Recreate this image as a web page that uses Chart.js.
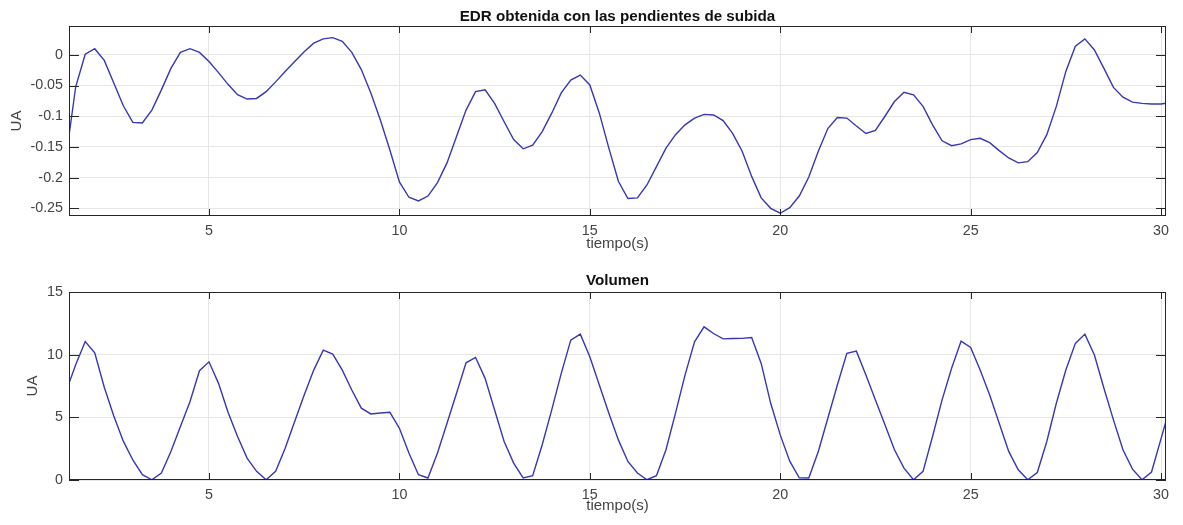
<!DOCTYPE html>
<html><head><meta charset="utf-8">
<script src="https://cdn.jsdelivr.net/npm/chart.js@4/dist/chart.umd.min.js"></script>
<style>
html,body{margin:0;padding:0;background:#fff}
body{width:1183px;height:525px;overflow:hidden;position:relative}
.box{position:absolute;left:0;width:1183px}
#b1{top:0;height:262px}
#b2{top:262px;height:263px}
</style></head><body>
<div class="box" id="b1"><canvas id="c1"></canvas></div>
<div class="box" id="b2"><canvas id="c2"></canvas></div>
<script>
const time = [
  1.25,1.5,1.75,
  2,2.25,2.5,2.75, 3,3.25,3.5,3.75, 4,4.25,4.5,4.75, 5,5.25,5.5,5.75,
  6,6.25,6.5,6.75, 7,7.25,7.5,7.75, 8,8.25,8.5,8.75, 9,9.25,9.5,9.75,
  10,10.25,10.5,10.75, 11,11.25,11.5,11.75, 12,12.25,12.5,12.75, 13,13.25,13.5,13.75,
  14,14.25,14.5,14.75, 15,15.25,15.5,15.75, 16,16.25,16.5,16.75, 17,17.25,17.5,17.75,
  18,18.25,18.5,18.75, 19,19.25,19.5,19.75, 20,20.25,20.5,20.75, 21,21.25,21.5,21.75,
  22,22.25,22.5,22.75, 23,23.25,23.5,23.75, 24,24.25,24.5,24.75, 25,25.25,25.5,25.75,
  26,26.25,26.5,26.75, 27,27.25,27.5,27.75, 28,28.25,28.5,28.75, 29,29.25,29.5,29.75,
  30,30.25
];
const edr = [
  -0.165,-0.052,0.001,
  0.010,-0.009,-0.046,-0.083, -0.110,-0.111,-0.090,-0.057, -0.022,0.004,0.010,0.004, -0.011,-0.029,-0.048,-0.065,
  -0.072,-0.071,-0.060,-0.044, -0.027,-0.011,0.005,0.019, 0.026,0.028,0.022,0.004, -0.024,-0.062,-0.106,-0.155,
  -0.207,-0.232,-0.238,-0.230, -0.208,-0.176,-0.133,-0.090, -0.060,-0.057,-0.079,-0.109, -0.138,-0.153,-0.147,-0.125,
  -0.095,-0.062,-0.041,-0.033, -0.049,-0.095,-0.152,-0.206, -0.234,-0.233,-0.212,-0.182, -0.152,-0.130,-0.114,-0.103,
  -0.097,-0.098,-0.107,-0.128, -0.157,-0.198,-0.233,-0.250, -0.258,-0.249,-0.230,-0.199, -0.157,-0.120,-0.102,-0.103,
  -0.116,-0.128,-0.123,-0.100, -0.076,-0.061,-0.065,-0.084, -0.114,-0.140,-0.148,-0.145, -0.138,-0.136,-0.143,-0.156,
  -0.168,-0.176,-0.174,-0.159, -0.130,-0.084,-0.027,0.014, 0.026,0.008,-0.022,-0.053, -0.069,-0.077,-0.079,-0.080,
  -0.080,-0.078
];
const volumen = [
  7.1,9.2,11.05,
  10.15,7.4,5.1,3.1, 1.6,0.42,0.02,0.56, 2.28,4.27,6.25,8.72, 9.43,7.71,5.4,3.47,
  1.75,0.69,0.02,0.69, 2.54,4.66,6.78,8.77, 10.36,10.05,8.77,7.18, 5.73,5.27,5.35,5.4,
  4.13,2.15,0.42,0.16, 2.15,4.53,6.92,9.35, 9.78,8.11,5.59,3.07, 1.35,0.16,0.34,2.81,
  5.59,8.51,11.16,11.64, 9.83,7.58,5.33,3.2, 1.48,0.56,0.02,0.34, 2.41,5.33,8.37,11.02,
  12.22,11.69,11.26,11.29, 11.3,11.37,9.3,6.12, 3.6,1.5,0.18,0.16, 2.28,4.93,7.58,10.1,
  10.28,8.37,6.39,4.4, 2.41,0.95,0.02,0.69, 3.47,6.39,8.91,11.08, 10.58,8.77,6.78,4.53,
  2.28,0.82,0.02,0.6, 3.07,6.12,8.77,10.9, 11.64,9.97,7.32,4.8, 2.41,0.87,0.02,0.64,
  3.3,6.0
];
const xTicks = [5,10,15,20,25,30];
const xTickLabels = ['5','10','15','20','25','30'];
const edrTicks = [-0.25,-0.2,-0.15,-0.1,-0.05,0];
const edrTickLabels = ['-0.25','-0.2','-0.15','-0.1','-0.05','0'];
const volTicks = [0,5,10,15];
const volTickLabels = ['0','5','10','15'];
const title1 = 'EDR obtenida con las pendientes de subida';
const title2 = 'Volumen';
const xLabel = 'tiempo(s)';
const yLabel = 'UA';

const FONT = '"Liberation Sans", Arial, sans-serif';
const TXT = '#444444';

const framePlugin = {
  id: 'frame',
  afterDatasetsDraw(chart, args, opts) {
    const {ctx, chartArea: a, scales: {x, y}} = chart;
    ctx.save();
    ctx.strokeStyle = '#262626';
    ctx.lineWidth = 1;
    ctx.beginPath();
    x.ticks.forEach(t => {
      const px = Math.round(x.getPixelForValue(t.value)) + 0.5;
      ctx.moveTo(px, a.bottom); ctx.lineTo(px, a.bottom - 7);
      ctx.moveTo(px, a.top); ctx.lineTo(px, a.top + 7);
    });
    y.ticks.forEach(t => {
      const py = Math.round(y.getPixelForValue(t.value)) + 0.5;
      ctx.moveTo(a.left, py); ctx.lineTo(a.left + 10, py);
      ctx.moveTo(a.right, py); ctx.lineTo(a.right - 10, py);
    });
    ctx.stroke();
    ctx.strokeRect(a.left + 0.5, a.top + 0.5, a.right - a.left - 1, a.bottom - a.top - 1);
    ctx.fillStyle = '#111';
    ctx.font = 'bold 15.2px ' + FONT;
    ctx.textAlign = 'center';
    ctx.textBaseline = 'alphabetic';
    ctx.fillText(opts.text, (a.left + a.right) / 2, a.top - opts.gap);
    ctx.restore();
  }
};

function makeChart(id, values, yTicks, yLabels, ymin, ymax, pad, yTitlePad, xTitlePad, gap, title) {
  return new Chart(document.getElementById(id), {
    type: 'line',
    data: {
      labels: time,
      datasets: [{
        data: time.map((t, i) => ({x: t, y: values[i]})),
        borderColor: 'rgb(55,55,180)',
        borderWidth: 1.4,
        pointRadius: 0,
        tension: 0,
        fill: false
      }]
    },
    options: {
      responsive: true,
      maintainAspectRatio: false,
      animation: false,
      devicePixelRatio: 1,
      layout: {padding: pad},
      plugins: {
        legend: {display: false},
        tooltip: {enabled: false},
        frame: {text: title, gap: gap}
      },
      scales: {
        x: {
          type: 'linear',
          min: 1.324,
          max: 30.13,
          afterBuildTicks: s => { s.ticks = xTicks.map(v => ({value: v})); },
          afterFit: s => { s.height = 40; },
          grid: {color: '#e6e6e6', lineWidth: 1, drawTicks: false},
          border: {display: false},
          ticks: {
            padding: 6,
            color: TXT,
            font: {family: FONT, size: 14.3},
            maxRotation: 0,
            autoSkip: false,
            callback: v => xTickLabels[xTicks.indexOf(v)]
          },
          title: {display: true, text: xLabel, color: TXT,
                  font: {family: FONT, size: 15}, padding: {top: 0, bottom: xTitlePad}}
        },
        y: {
          type: 'linear',
          min: ymin,
          max: ymax,
          afterBuildTicks: s => { s.ticks = yTicks.map(v => ({value: v})); },
          afterFit: s => { s.width = 69; },
          grid: {color: '#e6e6e6', lineWidth: 1, drawTicks: false},
          border: {display: false},
          ticks: {
            padding: 6,
            color: TXT,
            font: {family: FONT, size: 14.3},
            autoSkip: false,
            callback: v => yLabels[yTicks.indexOf(v)]
          },
          title: {display: true, text: yLabel, color: TXT,
                  font: {family: FONT, size: 15}, padding: {top: yTitlePad, bottom: 0}}
        }
      }
    },
    plugins: [framePlugin]
  });
}

makeChart('c1', edr, edrTicks, edrTickLabels, -0.2625, 0.047,
  {top: 26, right: 17, bottom: 6, left: 0}, 8, 3.5, 5.5, title1);
makeChart('c2', volumen, volTicks, volTickLabels, 0, 15,
  {top: 30, right: 17, bottom: 5, left: 0}, 24, 5, 7, title2);
</script>
</body></html>
